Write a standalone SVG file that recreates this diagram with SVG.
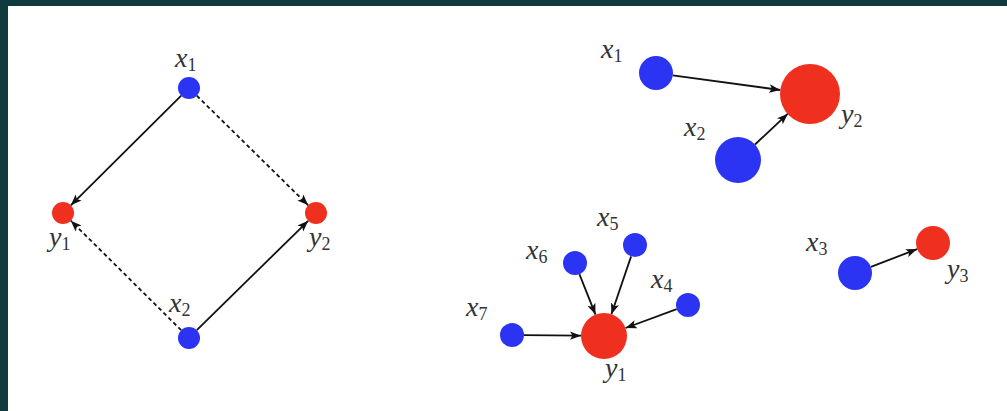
<svg xmlns="http://www.w3.org/2000/svg" width="1007" height="411" viewBox="0 0 1007 411">
<style>
.b{fill:#2b34f2}
.r{fill:#f0301f}
.e{stroke:#111;stroke-width:1.8;fill:none;marker-end:url(#ah)}
.d{stroke-dasharray:4 3}
.t{font-family:"Liberation Serif",serif;font-style:italic;font-size:28px;fill:#333}
.s{font-style:normal;font-size:18px}
</style>
<defs>
<marker id="ah" markerUnits="userSpaceOnUse" markerWidth="12" markerHeight="10" refX="11" refY="5" orient="auto">
<path d="M0,0.8 L11,5 L0,9.2 L2.5,5 z" fill="#111"/>
</marker>
</defs>
<rect x="0" y="0" width="1007" height="411" fill="#0e3a40"/>
<rect x="8" y="6" width="999" height="405" fill="#fff"/>
<g id="connectors">
<line class="e" x1="181.2" y1="95.7" x2="70.8" y2="205.3"/>
<line class="e d" x1="196.8" y1="95.7" x2="308.2" y2="205.3"/>
<line class="e d" x1="181.2" y1="330.2" x2="70.8" y2="220.7"/>
<line class="e" x1="196.8" y1="330.2" x2="308.2" y2="220.8"/>
<line class="e" x1="672.8" y1="75.3" x2="780.3" y2="90"/>
<line class="e" x1="755" y1="144.5" x2="787.9" y2="113.7"/>
<line class="e" x1="524" y1="335.1" x2="581" y2="335.7"/>
<line class="e" x1="579.4" y1="274.2" x2="595.5" y2="314.6"/>
<line class="e" x1="631.1" y1="256.4" x2="611.4" y2="314.2"/>
<line class="e" x1="676.7" y1="309.2" x2="625.6" y2="328"/>
<line class="e" x1="870.9" y1="266.9" x2="917.1" y2="249.1"/>
</g>
<g id="L-x1"><circle class="b" cx="189" cy="88" r="11"/><text class="t" x="175" y="67">x<tspan class="s" dy="4">1</tspan></text></g>
<g id="L-y1"><circle class="r" cx="63" cy="213" r="11"/><text class="t" x="49" y="246">y<tspan class="s" dy="4">1</tspan></text></g>
<g id="L-y2"><circle class="r" cx="316" cy="213" r="11"/><text class="t" x="309" y="246">y<tspan class="s" dy="4">2</tspan></text></g>
<g id="L-x2"><circle class="b" cx="189" cy="338" r="11"/><text class="t" x="169" y="312">x<tspan class="s" dy="4">2</tspan></text></g>
<g id="A-x1"><circle class="b" cx="656" cy="73" r="17"/><text class="t" x="601" y="58">x<tspan class="s" dy="4">1</tspan></text></g>
<g id="A-y2"><circle class="r" cx="810" cy="94" r="30"/><text class="t" x="841" y="123">y<tspan class="s" dy="4">2</tspan></text></g>
<g id="A-x2"><circle class="b" cx="738" cy="160" r="23"/><text class="t" x="684" y="136">x<tspan class="s" dy="4">2</tspan></text></g>
<g id="B-y1"><circle class="r" cx="604" cy="336" r="23"/><text class="t" x="605" y="377">y<tspan class="s" dy="4">1</tspan></text></g>
<g id="B-x7"><circle class="b" cx="512" cy="335" r="12"/><text class="t" x="466" y="316">x<tspan class="s" dy="4">7</tspan></text></g>
<g id="B-x6"><circle class="b" cx="575" cy="263" r="12"/><text class="t" x="526" y="259">x<tspan class="s" dy="4">6</tspan></text></g>
<g id="B-x5"><circle class="b" cx="635" cy="245" r="12"/><text class="t" x="597" y="226">x<tspan class="s" dy="4">5</tspan></text></g>
<g id="B-x4"><circle class="b" cx="688" cy="305" r="12"/><text class="t" x="651" y="288">x<tspan class="s" dy="4">4</tspan></text></g>
<g id="C-x3"><circle class="b" cx="855" cy="273" r="17"/><text class="t" x="806" y="251">x<tspan class="s" dy="4">3</tspan></text></g>
<g id="C-y3"><circle class="r" cx="933" cy="243" r="17"/><text class="t" x="947" y="278">y<tspan class="s" dy="4">3</tspan></text></g>
</svg>
